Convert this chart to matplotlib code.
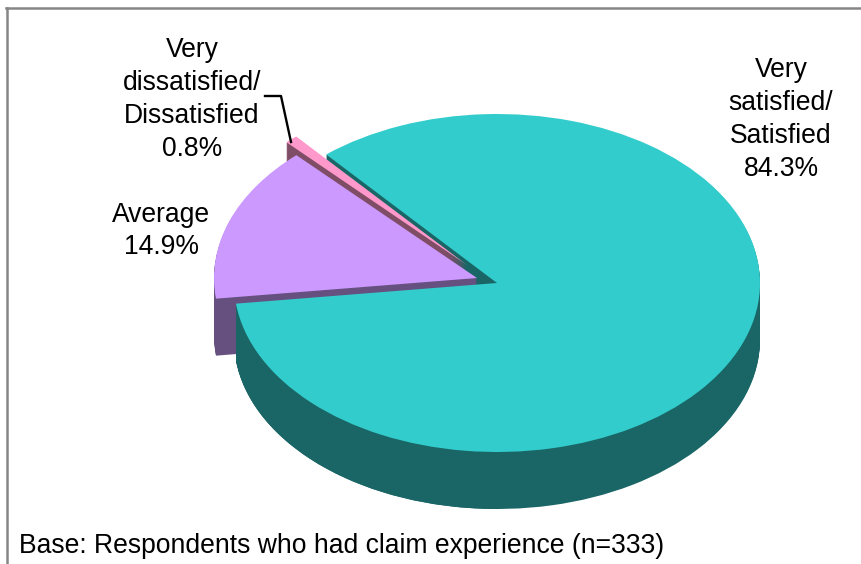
import matplotlib
matplotlib.use("Agg")
import matplotlib.pyplot as plt
from matplotlib.lines import Line2D

plt.rcParams["font.family"] = ["Liberation Sans", "DejaVu Sans"]

# Slice values, clockwise from the top left
labels = ["Very\nsatisfied/\nSatisfied\n84.3%", "Average\n14.9%", "Very\ndissatisfied/\nDissatisfied\n0.8%"]
shares = [84.3, 14.9, 0.8]

top_colors = ["#33CCCC", "#CC99FF", "#FF99CC"]
side_colors = ["#1A6666", "#66507F", "#804D66"]
# how far each slice is pulled out, in pixels (left, up)
pull = [(0, 0), (20, 5), (30, 18)]
start = 130.5

W, H = 861, 564
CX, CY = 497, 283
RX, RY = 263, 169
DEPTH = 57

fig = plt.figure(figsize=(W / 100, H / 100), dpi=100)
ax = fig.add_axes([0, 0, 1, 1])


def layer(idx, drop, colors):
    # one pie layer, only slice idx is painted
    cols = [colors[i] if i == idx else "none" for i in range(3)]
    wedges, _ = ax.pie(
        shares,
        colors=cols,
        startangle=start,
        counterclock=False,
        center=(-pull[idx][0] / RX, (pull[idx][1] - drop) / RY),
        radius=1,
        wedgeprops={"linewidth": 0},
    )
    return wedges[idx]


# walls back to front, the lower part of the teal wall goes again in front of purple
for d in range(DEPTH, 0, -1):
    layer(0, d, side_colors)
for d in range(DEPTH, 0, -1):
    layer(2, d, side_colors)
for d in range(DEPTH, 0, -1):
    layer(1, d, side_colors)
for d in range(DEPTH, 0, -1):
    w = layer(0, d, side_colors)
    w.set_theta2(-90)

layer(2, 0, top_colors)
layer(1, 0, top_colors)
layer(0, 0, top_colors)

# pie() forces equal aspect, the ellipse comes from the axis limits
ax.set_aspect("auto")
ax.set_xlim(-CX / RX, (W - CX) / RX)
ax.set_ylim(-(H - CY) / RY, CY / RY)
ax.axis("off")


def fx(x):
    return x / W


def fy(y):
    return 1 - y / H


# Chart frame
fig.add_artist(Line2D([fx(6.5), fx(6.5)], [fy(564), fy(8)], color="#868686", lw=1.8))
fig.add_artist(Line2D([fx(5.5), fx(861)], [fy(8), fy(8)], color="#868686", lw=1.8))

# Leader line for the small slice
fig.add_artist(Line2D([fx(265), fx(281), fx(291)], [fy(96), fy(96), fy(142)], color="black", lw=1.7))

text_kw = {"ha": "center", "va": "center", "fontsize": 19.1, "linespacing": 1.35, "color": "black"}
fig.text(fx(781), fy(119.5), labels[0], **text_kw)
fig.text(fx(161), fy(231), labels[1], **text_kw)
fig.text(fx(192), fy(99.5), labels[2], **text_kw)
fig.text(fx(19), fy(546), "Base: Respondents who had claim experience (n=333)", ha="left", va="center", fontsize=19.1)

fig.savefig("out.png", dpi=100)
